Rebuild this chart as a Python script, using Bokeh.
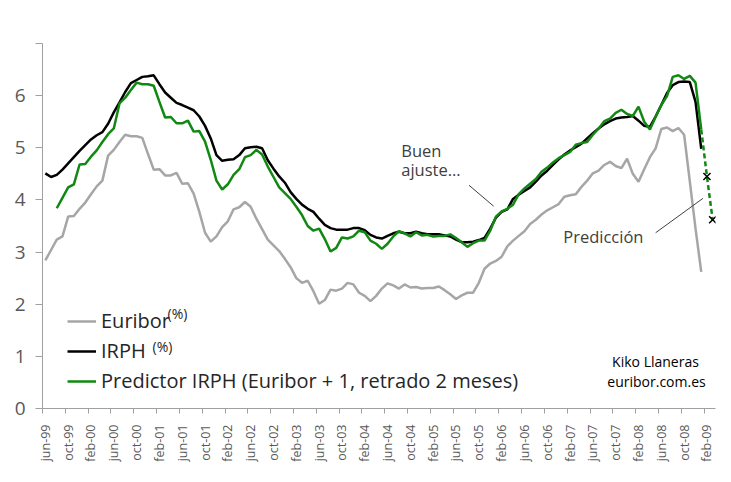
from bokeh.plotting import figure
from bokeh.models import Range1d, FixedTicker, Legend, LegendItem, Label
from bokeh.embed import file_html
from bokeh.resources import INLINE

# Monthly series, index 0 = jun-99
euribor = [
    2.84, 3.04, 3.24, 3.30, 3.68, 3.69, 3.83,                          # 1999 (jun-dic)
    3.95, 4.11, 4.26, 4.37, 4.85, 4.96, 5.11, 5.25, 5.22, 5.22, 5.19, 4.88,  # 2000
    4.58, 4.59, 4.47, 4.47, 4.52, 4.31, 4.32, 4.12, 3.77, 3.37, 3.20, 3.30,  # 2001
    3.48, 3.59, 3.82, 3.86, 3.96, 3.87, 3.64, 3.44, 3.24, 3.13, 3.02, 2.87,  # 2002
    2.71, 2.50, 2.41, 2.45, 2.25, 2.01, 2.08, 2.28, 2.26, 2.30, 2.41, 2.38,  # 2003
    2.22, 2.16, 2.06, 2.16, 2.30, 2.40, 2.36, 2.30, 2.38, 2.32, 2.33, 2.30,  # 2004
    2.31, 2.31, 2.34, 2.27, 2.19, 2.10, 2.17, 2.22, 2.22, 2.41, 2.68, 2.78,  # 2005
    2.83, 2.91, 3.11, 3.22, 3.31, 3.40, 3.54, 3.62, 3.72, 3.80, 3.86, 3.92,  # 2006
    4.06, 4.09, 4.11, 4.25, 4.37, 4.51, 4.56, 4.67, 4.73, 4.65, 4.61, 4.79,  # 2007
    4.50, 4.35, 4.59, 4.82, 4.99, 5.36, 5.39, 5.32, 5.38, 5.25, 4.35, 3.45,  # 2008
    2.62,                                                              # 2009 (ene)
]

irph = [
    4.51, 4.44, 4.48, 4.58, 4.70, 4.82, 4.94,
    5.05, 5.16, 5.24, 5.30, 5.46, 5.68, 5.87, 6.07, 6.24, 6.30, 6.36, 6.37,
    6.39, 6.22, 6.06, 5.96, 5.86, 5.82, 5.77, 5.72, 5.60, 5.42, 5.18, 4.86,
    4.75, 4.77, 4.78, 4.86, 4.99, 5.01, 5.02, 4.99, 4.76, 4.60, 4.45, 4.33,
    4.15, 4.02, 3.91, 3.83, 3.77, 3.64, 3.52, 3.46, 3.43, 3.43, 3.43, 3.46,
    3.46, 3.42, 3.33, 3.28, 3.26, 3.31, 3.36, 3.39, 3.36, 3.36, 3.39, 3.36,
    3.34, 3.34, 3.34, 3.32, 3.30, 3.24, 3.19, 3.19, 3.20, 3.23, 3.27, 3.45,
    3.66, 3.77, 3.82, 4.02, 4.10, 4.17, 4.24, 4.35, 4.47, 4.56, 4.67, 4.78,
    4.87, 4.95, 5.01, 5.08, 5.18, 5.28, 5.37, 5.45, 5.51, 5.56, 5.58, 5.59,
    5.61, 5.52, 5.42, 5.40, 5.60, 5.82, 6.05, 6.20, 6.26, 6.27, 6.26, 5.88,
    4.98,
]

# Euribor + 1, two months later: starts at aug-99 and runs to mar-09
predictor = [
    3.84, 4.04, 4.24, 4.30, 4.68, 4.69, 4.83,
    4.95, 5.11, 5.26, 5.37, 5.85, 5.96, 6.11, 6.25, 6.22, 6.22, 6.19, 5.88,
    5.58, 5.59, 5.47, 5.47, 5.52, 5.31, 5.32, 5.12, 4.77, 4.37, 4.20, 4.30,
    4.48, 4.59, 4.82, 4.86, 4.96, 4.87, 4.64, 4.44, 4.24, 4.13, 4.02, 3.87,
    3.71, 3.50, 3.41, 3.45, 3.25, 3.01, 3.08, 3.28, 3.26, 3.30, 3.41, 3.38,
    3.22, 3.16, 3.06, 3.16, 3.30, 3.40, 3.36, 3.30, 3.38, 3.32, 3.33, 3.30,
    3.31, 3.31, 3.34, 3.27, 3.19, 3.10, 3.17, 3.22, 3.22, 3.41, 3.68, 3.78,
    3.83, 3.91, 4.11, 4.22, 4.31, 4.40, 4.54, 4.62, 4.72, 4.80, 4.86, 4.92,
    5.06, 5.09, 5.11, 5.25, 5.37, 5.51, 5.56, 5.67, 5.73, 5.65, 5.61, 5.79,
    5.50, 5.35, 5.59, 5.82, 5.99, 6.36, 6.39, 6.32, 6.38, 6.25, 5.35, 4.45,
    3.62,
]
predictor_start = 2      # first month index of the predictor
n_forecast = 2           # last points are the forecast (feb-09, mar-09)

tick_labels = [
    "jun-99", "oct-99",
    "feb-00", "jun-00", "oct-00", "feb-01", "jun-01", "oct-01",
    "feb-02", "jun-02", "oct-02", "feb-03", "jun-03", "oct-03",
    "feb-04", "jun-04", "oct-04", "feb-05", "jun-05", "oct-05",
    "feb-06", "jun-06", "oct-06", "feb-07", "jun-07", "oct-07",
    "feb-08", "jun-08", "oct-08", "feb-09",
]
label_step = 4
n_months = predictor_start + len(predictor)

x_eur = list(range(len(euribor)))
x_irph = list(range(len(irph)))
x_pred = list(range(predictor_start, predictor_start + len(predictor)))

GRAY = "#a6a6a6"
GREEN = "#118811"
AXIS = "#a0a0a0"
FONT = "Open Sans"
TITLE_FONT = "Lato"

p = figure(width=731, height=482, output_backend="svg", toolbar_location=None,
           x_range=Range1d(-0.5, n_months - 0.5), y_range=Range1d(0, 7),
           min_border_left=42, min_border_right=16, min_border_top=43,
           min_border_bottom=74)
p.outline_line_color = None
p.xgrid.visible = False
p.ygrid.visible = False
p.background_fill_color = "white"
p.border_fill_color = "white"

r_eur = p.line(x_eur, euribor, line_color=GRAY, line_width=2.5)
r_irph = p.line(x_irph, irph, line_color="black", line_width=2.5)
solid_n = len(predictor) - n_forecast
r_pred = p.line(x_pred[:solid_n], predictor[:solid_n], line_color=GREEN, line_width=2.5)
p.line(x_pred[solid_n - 1:], predictor[solid_n - 1:], line_color=GREEN,
       line_width=2.5, line_dash="5 3")
p.scatter(x_pred[solid_n:], predictor[solid_n:], marker="x", size=10,
          line_color="black", line_width=1.5)

# x axis: labels every 4 months, tick marks between categories
label_pos = [i * label_step for i in range(len(tick_labels))]
xa = p.xaxis[0]
xa.ticker = FixedTicker(ticks=label_pos, minor_ticks=[t - 0.5 for t in label_pos])
xa.major_label_overrides = {t: lab for t, lab in zip(label_pos, tick_labels)}
xa.major_label_orientation = 1.5707963
xa.major_tick_line_color = None
xa.minor_tick_in = 0
xa.minor_tick_out = 5
xa.minor_tick_line_color = AXIS
xa.axis_line_color = AXIS
xa.major_label_standoff = 10
xa.major_label_text_font = FONT
xa.major_label_text_font_size = "12.5px"
xa.major_label_text_color = "#595959"

ya = p.yaxis[0]
ya.ticker = FixedTicker(ticks=list(range(0, 8)), minor_ticks=[])
ya.major_label_overrides = {7: ""}
ya.major_tick_in = 0
ya.major_tick_out = 7
ya.major_tick_line_color = AXIS
ya.axis_line_color = AXIS
ya.major_label_standoff = 10
ya.major_label_text_font = FONT
ya.major_label_text_font_size = "19px"
ya.major_label_text_color = "#595959"

legend = Legend(items=[
    LegendItem(label="Euribor", renderers=[r_eur]),
    LegendItem(label="IRPH", renderers=[r_irph]),
    LegendItem(label="Predictor IRPH (Euribor + 1, retrado 2 meses)", renderers=[r_pred]),
], location=(25, 14), orientation="vertical")
legend.label_text_font = FONT
legend.label_text_font_size = "20px"
legend.label_text_color = "#262626"
legend.glyph_width = 29
legend.glyph_height = 22
legend.label_height = 22
legend.label_standoff = 5
legend.spacing = 3
legend.padding = 0
legend.margin = 0
legend.border_line_alpha = 0
legend.background_fill_alpha = 0
p.add_layout(legend)

pct_style = dict(x_units="screen", y_units="screen", text="(%)", text_font=FONT,
                 text_font_size="14px", text_color="#262626", text_baseline="middle")
p.add_layout(Label(x=125, y=95, **pct_style))
p.add_layout(Label(x=110, y=62, **pct_style))

# title
p.add_layout(Label(x=323, y=370, x_units="screen", y_units="screen",
                   text="Predicción del IRPH basada en el Euribor", text_align="center",
                   text_font=TITLE_FONT, text_font_style="bold", text_font_size="23.5px",
                   text_color="black"))

# notes on the chart
note = dict(text_font=FONT, text_font_size="16.5px", text_color="#404040")
p.add_layout(Label(x=62.4, y=4.73, text="Buen", **note))
p.add_layout(Label(x=62.4, y=4.365, text="ajuste…", **note))
p.segment(x0=[74.3], y0=[4.28], x1=[78.6], y1=[3.88], line_color="#404040", line_width=1)
p.add_layout(Label(x=90.8, y=3.085, text="Predicción", **note))
p.segment(x0=[107.0], y0=[3.37], x1=[115.3], y1=[4.03], line_color="#404040", line_width=1)

credit = dict(x_units="screen", y_units="screen", text_font=FONT, text_font_size="14px",
              text_color="black", text_align="center", text_baseline="middle")
p.add_layout(Label(x=613, y=47, text="Kiko Llaneras", **credit))
p.add_layout(Label(x=614, y=27, text="euribor.com.es", **credit))

open("out.html", "w").write(file_html(p, INLINE))
